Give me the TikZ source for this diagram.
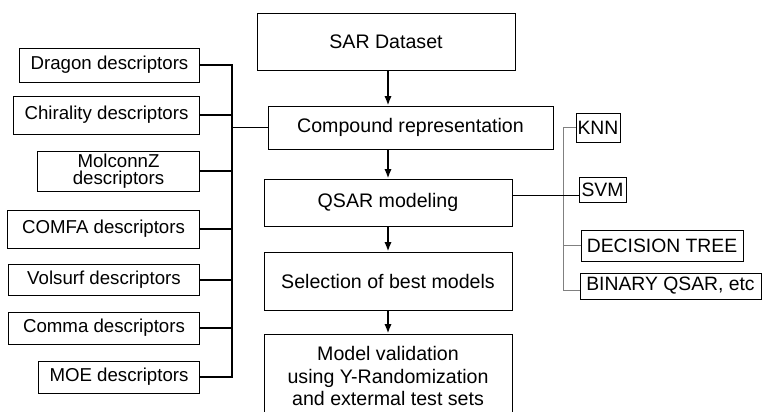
\documentclass[tikz,border=0pt]{standalone}
\usepackage{fontspec}
\setmainfont{Liberation Sans}
\usepackage{tikz}
\usetikzlibrary{arrows.meta}

\begin{document}
\begin{tikzpicture}[x=0.75pt,y=-0.75pt,
    box/.style={draw,line width=0.75pt,inner sep=0pt,align=center,
        font=\fontsize{14}{17}\selectfont},
    desc/.style={box,anchor=east},
    stage/.style={box,font=\fontsize{14.7}{17}\selectfont},
    algo/.style={box,font=\fontsize{14.5}{16}\selectfont},
    busln/.style={line width=1.5pt},
    grayln/.style={line width=0.75pt,color=gray},
    thinln/.style={line width=0.75pt},
    arr/.style={line width=1.5pt,-{Latex[length=7pt,width=5.5pt]}}]
    \useasboundingbox (0,0) rectangle (763,411);
    \clip (0,0) rectangle (763,411);
    % descriptor boxes on the left
    \node (drag)  at (200,65)    [desc,minimum width=135pt,minimum height=25.5pt] {Dragon descriptors};
    \node (chir)  at (200,115)   [desc,minimum width=139.5pt,minimum height=28.5pt] {Chirality descriptors};
    \node (molc)  at (200,171)   [desc,minimum width=121.5pt,minimum height=30pt,
        font=\fontsize{14}{12.5}\selectfont] {MolconnZ\\descriptors};
    \node (comfa) at (200,229)   [desc,minimum width=144pt,minimum height=28.5pt] {COMFA descriptors};
    \node (vols)  at (200,279.5) [desc,minimum width=143.25pt,minimum height=23.25pt] {Volsurf descriptors};
    \node (comma) at (200,328)   [desc,minimum width=143.25pt,minimum height=24pt] {Comma descriptors};
    \node (moe)   at (200,377)   [desc,minimum width=120.75pt,minimum height=24pt] {MOE descriptors};
    % main stages
    \node (sar)   at (386,41.5)  [stage,minimum width=193.5pt,minimum height=42.75pt] {SAR Dataset};
    \node (comp)  at (410.5,127.5) [stage,minimum width=213.75pt,minimum height=32.25pt] {Compound representation};
    \node (qsar)  at (388,202.5) [stage,minimum width=186pt,minimum height=35.25pt] {QSAR modeling};
    \node (sel)   at (388,281)   [stage,minimum width=186pt,minimum height=43.5pt] {Selection of best models};
    \node (valid) at (388,376)   [stage,minimum width=186pt,minimum height=63pt]
        {Model validation\\using Y-Randomization\\and extermal test sets};
    % methods on the right
    \node (knn) at (598,127.5)   [algo,minimum width=33pt,minimum height=21.75pt] {KNN};
    \node (svm) at (602.5,189.5) [algo,minimum width=35.25pt,minimum height=18.75pt] {SVM};
    \node (dt)  at (662,245.5)   [algo,minimum width=121.5pt,minimum height=23.25pt] {DECISION TREE};
    \node (bin) at (670.5,286)   [algo,minimum width=135.75pt,minimum height=19.5pt] {BINARY QSAR, etc};
    % left bus
    \coordinate (ltop) at (232,65);
    \coordinate (lbot) at (232,377);
    \draw[busln] (drag.east) -- (ltop) -- (lbot) -- (moe.east);
    \foreach \n in {chir,molc,comfa,vols,comma} % branches into the bus
    \draw[busln] (\n.east) -- (\n.east -| ltop);
    \draw[thinln] (ltop |- comp.west) -- (comp.west);
    % right bus
    \coordinate (rtop) at (563,127.5);
    \coordinate (rbot) at (563,290);
    \draw[grayln] (knn.west) -- (rtop) -- (rbot) -- (rbot -| bin.west);
    \draw[grayln] (rtop |- dt.west) -- (dt.west);
    \draw[thinln] ([yshift=5.6pt]qsar.east) -- ([yshift=5.6pt]qsar.east -| svm.west);
    % flow arrows
    \draw[arr] (sar.south -| qsar.north) -- (qsar.north |- comp.north);
    \draw[arr] (qsar.north |- comp.south) -- (qsar.north);
    \draw[arr] (qsar.south) -- (sel.north);
    \draw[arr] (sel.south) -- (valid.north);
\end{tikzpicture}
\end{document}
